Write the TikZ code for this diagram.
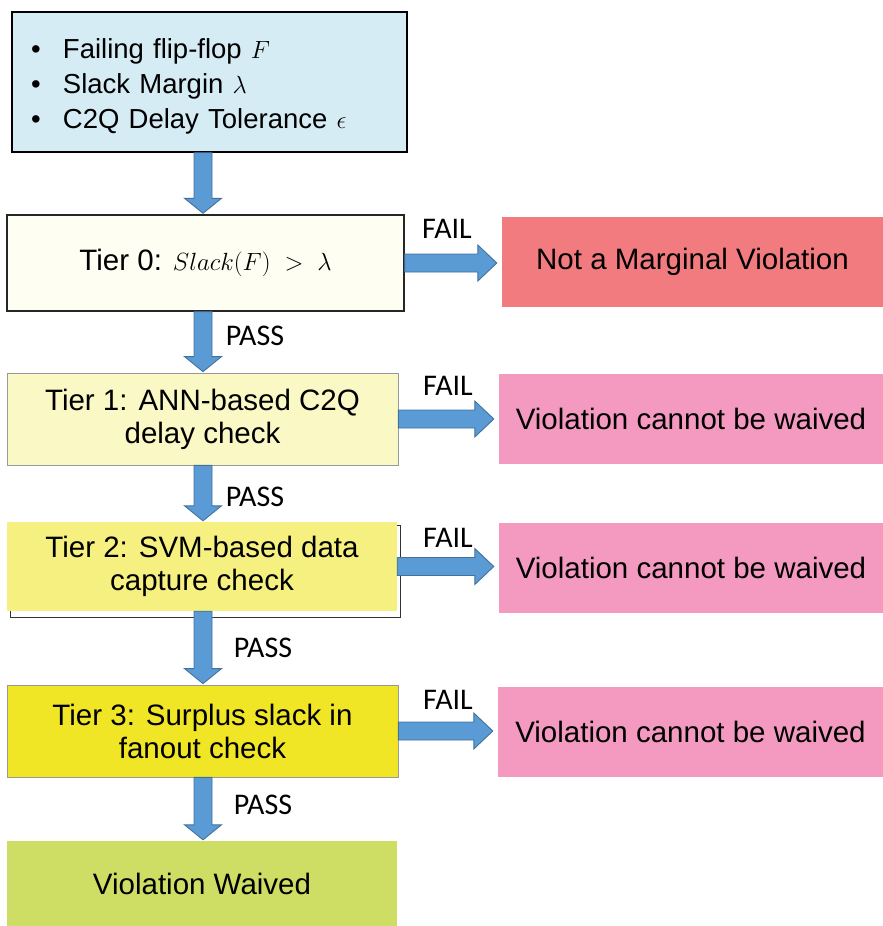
\documentclass[tikz,border=0pt]{standalone}
\usepackage{fontspec}
\setmainfont{Liberation Sans}
\newfontfamily\tagfont{Carlito}
\usetikzlibrary{calc}

\definecolor{inputblue}{RGB}{214,236,245}
\definecolor{tierzero}{RGB}{254,254,243}
\definecolor{tierone}{RGB}{250,248,196}
\definecolor{tiertwo}{RGB}{245,240,127}
\definecolor{tierthree}{RGB}{240,230,38}
\definecolor{notmarginal}{RGB}{242,123,127}
\definecolor{nowaive}{RGB}{244,154,193}
\definecolor{waived}{RGB}{206,222,100}
\definecolor{arrowfill}{RGB}{91,155,213}
\definecolor{arrowline}{RGB}{65,113,156}

\newcommand{\boxfont}{\fontsize{29.5}{33}\selectfont}
\newcommand{\tagsize}{\tagfont\fontsize{30}{34}\selectfont}

\tikzset{
  box/.style={rectangle, inner sep=0pt, align=center, font=\boxfont},
  verdict/.style={box, minimum height=90pt},
  tag/.style={inner sep=0pt, font=\tagsize},
  blockarrow/.style={fill=arrowfill, draw=arrowline, line width=0.9pt, line join=miter}
}

% down arrow in the column of (col), from the bottom of #1 to the top of #2
\newcommand{\passarrow}[2]{%
  \draw[blockarrow] let \p1=(col |- #1.south), \p2=(col |- #2.north) in
    (\x1-9pt,\y1) -- (\x1+9pt,\y1) -- (\x1+9pt,\y2+16pt) -- (\x1+18.5pt,\y2+16pt)
    -- (\x1,\y2+1pt) -- (\x1-18.5pt,\y2+16pt) -- (\x1-9pt,\y2+16pt) -- cycle;}
% right arrow from #1 towards #2
\newcommand{\failarrow}[2]{%
  \draw[blockarrow] let \p1=(#1.east), \p2=(#2.west) in
    (\x1,\y1+9pt) -- (\x2-24pt,\y1+9pt) -- (\x2-24pt,\y1+18pt) -- (\x2-5pt,\y1)
    -- (\x2-24pt,\y1-18pt) -- (\x2-24pt,\y1-9pt) -- (\x1,\y1-9pt) -- cycle;}

\begin{document}
\begin{tikzpicture}[x=1pt, y=-1pt]
                    \useasboundingbox (0,0) rectangle (883,926);
                    \coordinate (col) at (203,0);
                    \node[box, fill=inputblue, draw=black, line width=1.4pt, minimum width=395pt, minimum height=140pt,
                          text width=357pt, align=left, font=\fontsize{27.5}{35}\selectfont] (input) at (209.5,82)
                          {\rule{0pt}{29pt}\makebox[32pt][l]{\textbullet}Failing flip-flop $F$\\
                           \makebox[32pt][l]{\textbullet}Slack Margin $\lambda$\\
                           \makebox[32pt][l]{\textbullet}C2Q Delay Tolerance $\epsilon$};
                    \node[box, fill=tierzero, draw=black!85, line width=1.4pt, minimum width=397pt, minimum height=96pt] (tier0) at (205.5,263)
                          {Tier 0: $Slack(F)\;>\;\lambda$};
                    \node[box, fill=tierone, draw=black!40, line width=0.8pt, minimum width=391pt, minimum height=92pt] (tier1) at (202.5,419)
                          {Tier 1: ANN-based C2Q\\delay check};
                    \draw[black!80, line width=1pt] (10,525) rectangle (400,617);
                    \node[box, fill=tiertwo, minimum width=390pt, minimum height=89pt] (tier2) at (202,566.5)
                          {Tier 2: SVM-based data\\capture check};
                    \node[box, fill=tierthree, draw=black!40, line width=0.8pt, minimum width=391pt, minimum height=92pt] (tier3) at (202.5,731)
                          {Tier 3: Surplus slack in\\fanout check};
                    \node[box, fill=waived, minimum width=390pt, minimum height=85pt] (waived) at (202,883.5) {Violation Waived};

                    \node[verdict, fill=notmarginal, minimum width=381pt] (out0) at (692.5,262) {Not a Marginal Violation};
                    \node[verdict, fill=nowaive, minimum width=384pt] (out1) at (691,419) {Violation cannot be waived};
                    \node[verdict, fill=nowaive, minimum width=384pt] (out2) at (691,568) {Violation cannot be waived};
                    \node[verdict, fill=nowaive, minimum width=385pt] (out3) at (690.5,731.5) {Violation cannot be waived};

                    \passarrow{input}{tier0}
                    \passarrow{tier0}{tier1}
                    \passarrow{tier1}{tier2}
                    \passarrow{tier2}{tier3}
                    \passarrow{tier3}{waived}
                    \failarrow{tier0}{out0}
                    \failarrow{tier1}{out1}
                    \failarrow{tier2}{out2}
                    \failarrow{tier3}{out3}

                    \node[tag] (fail0) at (447,229) {FAIL};
                    \node[tag] (fail1) at (448,386) {FAIL};
                    \node[tag] (fail2) at (448,538) {FAIL};
                    \node[tag] (fail3) at (448,700) {FAIL};
                    \node[tag] (pass0) at (255,336) {PASS};
                    \node[tag] (pass1) at (255,497) {PASS};
                    \node[tag] (pass2) at (263,648) {PASS};
                    \node[tag] (pass3) at (263,805) {PASS};
                \end{tikzpicture}
\end{document}
